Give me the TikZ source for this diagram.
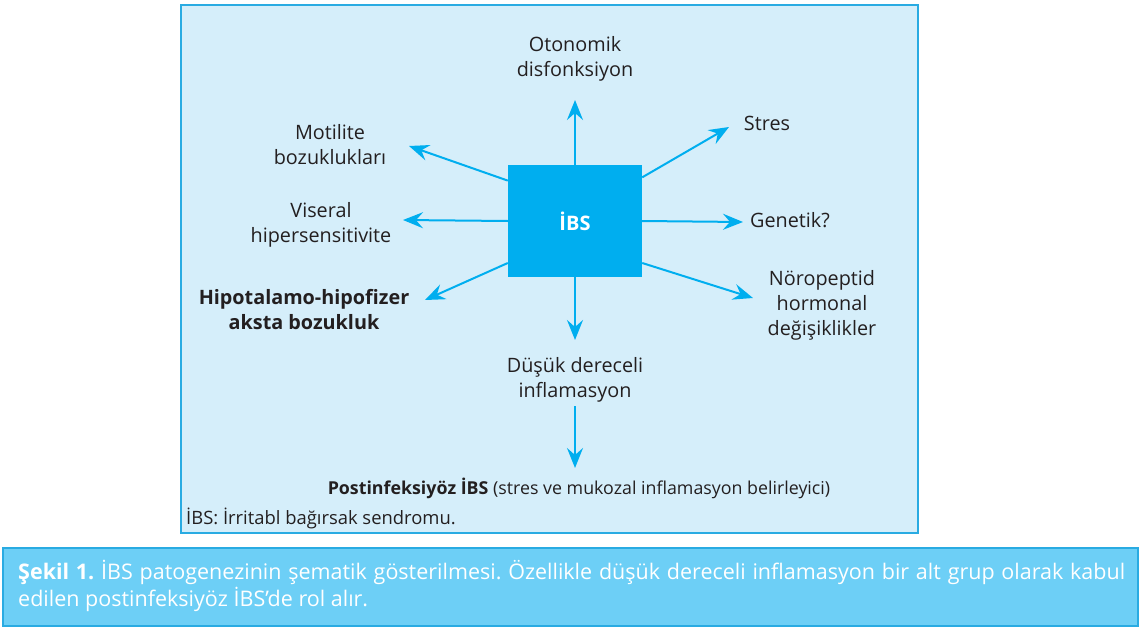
\documentclass[tikz,border=0pt]{standalone}
\usepackage{fontspec}
\setmainfont{Open Sans}
\usetikzlibrary{arrows.meta}
\frenchspacing
\definecolor{bgblue}{HTML}{D5EEFA}
\definecolor{edgeblue}{HTML}{29ABE2}
\definecolor{ibsblue}{HTML}{00AEEF}
\definecolor{capblue}{HTML}{6DCFF6}
\definecolor{txt}{HTML}{231F20}
\tikzset{
  lbl/.style={align=center, text=txt, font=\fontsize{19.8}{25}\selectfont, inner sep=0pt},
  arr/.style={draw=ibsblue, line width=2pt, -{Stealth[length=20pt,width=16pt,inset=7pt]}},
}
\begin{document}
\begin{tikzpicture}[x=1pt,y=-1pt]
\useasboundingbox (0,0) rectangle (1141,629);
% frames
\draw[edgeblue, fill=bgblue, line width=2pt] (181,5) rectangle (918,533);
\draw[edgeblue, fill=capblue, line width=2pt] (3,548) rectangle (1138,626);
% central box
\node[fill=ibsblue, minimum width=134pt, minimum height=112pt, inner sep=0pt,
      text=white, font=\fontsize{20}{25}\selectfont\bfseries] (ibs) at (575,221) {İBS};
% labels
\node[lbl] (oto) at (575,59) {Otonomik\\disfonksiyon};
\node[lbl] (mot) at (330,145) {Motilite\\bozuklukları};
\node[lbl] (vis) at (321,225) {Viseral\\hipersensitivite};
\node[lbl, font=\fontsize{19.8}{25}\selectfont\bfseries] (hip) at (304,310) {Hipotalamo-hipofizer\\aksta bozukluk};
\node[lbl] (str) at (767,123) {Stres};
\node[lbl] (gen) at (790,220) {Genetik?};
\node[lbl] (nor) at (822,305) {Nöropeptid\\hormonal\\değişiklikler};
\node[lbl] (dus) at (575,380) {Düşük dereceli\\inflamasyon};
\node[lbl, font=\fontsize{17.8}{22}\selectfont] (post) at (579,488) {\textbf{Postinfeksiyöz İBS} (stres ve mukozal inflamasyon belirleyici)};
\node[lbl, anchor=west, font=\fontsize{18.4}{22}\selectfont] (abbr) at (186,518) {İBS: İrritabl bağırsak sendromu.};
\node[lbl, anchor=north west, text width=1107pt, align=justify, text=white, font=\fontsize{21.5}{27}\selectfont] (cap) at (18,560)
  {\textbf{Şekil 1.} İBS patogenezinin şematik gösterilmesi. Özellikle düşük dereceli inflamasyon bir alt grup olarak kabul\linebreak edilen postinfeksiyöz İBS’de rol alır.};
% arrow tips
\coordinate (tOto) at (575,100);
\coordinate (tStr) at (729,127);
\coordinate (tMot) at (409,146);
\coordinate (tVis) at (403,220);
\coordinate (tGen) at (743,222);
\coordinate (tHip) at (425,300);
\coordinate (tNor) at (753,298);
\coordinate (tDus) at (575,340);
\coordinate (sPost) at (575,406);
\coordinate (tPost) at (575,468);
% arrows
\draw[arr] (ibs.north) -- (tOto);
\draw[arr] (ibs.33.3) -- (tStr);
\draw[arr] (ibs.149.2) -- (tMot);
\draw[arr] (ibs.west) -- (tVis);
\draw[arr] (ibs.east) -- (tGen);
\draw[arr] (ibs.212) -- (tHip);
\draw[arr] (ibs.328.5) -- (tNor);
\draw[arr] (ibs.south) -- (tDus);
\draw[arr] (sPost) -- (tPost);
\end{tikzpicture}
\end{document}
